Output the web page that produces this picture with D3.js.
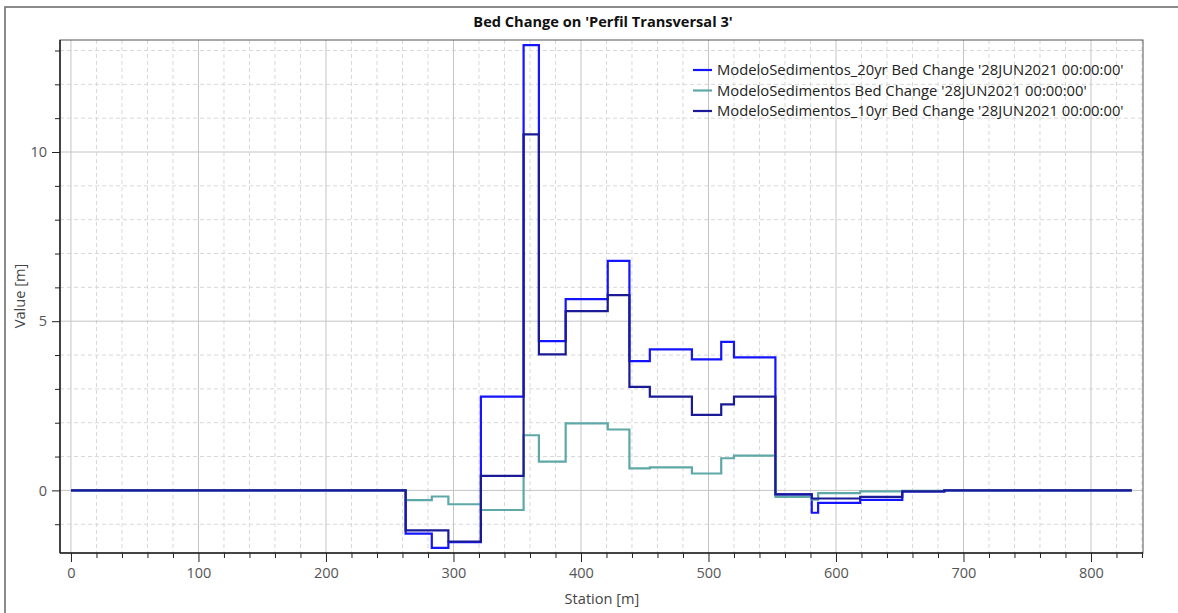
<!DOCTYPE html>
<html><head><meta charset="utf-8">
<script src="https://cdn.jsdelivr.net/npm/d3@7"></script>
<style>body{margin:0;background:#fff;} text{font-family:"Open Sans","Noto Sans",sans-serif;}</style>
</head><body><svg id="c" width="1178" height="613"></svg>
<script>
// Station breakpoints (m)
const stations = [0, 262.5, 283, 296, 321.5, 355, 367, 388, 421, 438, 454, 487, 510, 520, 552.5, 581, 586, 619, 652, 685, 832];
// Values per interval (step after)
const bed20yr = [0, -1.28, -1.70, -1.53, 2.77, 13.16, 4.41, 5.65, 6.78, 3.82, 4.17, 3.87, 4.39, 3.93, -0.12, -0.66, -0.37, -0.28, -0.03, 0];
const bedBase = [0, -0.29, -0.18, -0.41, -0.58, 1.63, 0.85, 1.98, 1.80, 0.65, 0.68, 0.50, 0.95, 1.03, -0.19, -0.27, -0.08, -0.03, -0.01, 0];
const bed10yr = [0, -1.18, -1.18, -1.51, 0.43, 10.52, 4.02, 5.30, 5.77, 3.06, 2.77, 2.23, 2.54, 2.77, -0.12, -0.24, -0.24, -0.19, -0.03, 0];
const seriesNames = [
  "ModeloSedimentos_20yr Bed Change '28JUN2021 00:00:00'",
  "ModeloSedimentos Bed Change '28JUN2021 00:00:00'",
  "ModeloSedimentos_10yr Bed Change '28JUN2021 00:00:00'"
];
const seriesColors = ["#1414ff", "#5ea8a8", "#1a1a96"];
const xTickValues = [0, 100, 200, 300, 400, 500, 600, 700, 800];
const yTickValues = [0, 5, 10];

const svg = d3.select("#c");
const L = 60, R = 1143, T = 40, B = 553;
const x = d3.scaleLinear().domain([-8.6, 840.8]).range([L, R]);
const y = d3.scaleLinear().domain([-1.85, 13.31]).range([B, T]);

// outer frame
svg.append("rect").attr("x", 5).attr("y", 7).attr("width", 1200).attr("height", 700)
  .attr("fill", "none").attr("stroke", "#666").attr("stroke-width", 1.5);

// title
svg.append("text").attr("x", 603).attr("y", 27).attr("text-anchor", "middle")
  .attr("font-size", 14.6).attr("font-weight", "bold").attr("fill", "#111")
  .text("Bed Change on 'Perfil Transversal 3'");

const g = svg.append("g");
// minor grid
const xMinor = d3.range(0, 841, 20).filter(v => v % 100 !== 0);
const yMinor = d3.range(-1, 14, 1).filter(v => v % 5 !== 0);
g.selectAll(".vxm").data(xMinor).enter().append("line")
  .attr("x1", d => x(d)).attr("x2", d => x(d)).attr("y1", T).attr("y2", B)
  .attr("stroke", "#d8d8d8").attr("stroke-dasharray", "4,3");
g.selectAll(".hym").data(yMinor).enter().append("line")
  .attr("x1", L).attr("x2", R).attr("y1", d => y(d)).attr("y2", d => y(d))
  .attr("stroke", "#d8d8d8").attr("stroke-dasharray", "4,3");
// major grid
g.selectAll(".vx").data(xTickValues).enter().append("line")
  .attr("x1", d => x(d)).attr("x2", d => x(d)).attr("y1", T).attr("y2", B)
  .attr("stroke", "#c4c4c4");
g.selectAll(".hy").data(yTickValues).enter().append("line")
  .attr("x1", L).attr("x2", R).attr("y1", d => y(d)).attr("y2", d => y(d))
  .attr("stroke", "#c4c4c4");

// lines
const line = d3.line().x(d => x(d[0])).y(d => y(d[1])).curve(d3.curveStepAfter);
[bed20yr, bedBase, bed10yr].forEach((vals, i) => {
  const pts = vals.map((v, k) => [stations[k], v]);
  pts.push([stations[stations.length - 1], vals[vals.length - 1]]);
  svg.append("path").datum(pts).attr("d", line).attr("fill", "none")
    .attr("stroke", seriesColors[i]).attr("stroke-width", 2.2).attr("stroke-linejoin", "miter");
});

// plot frame
svg.append("rect").attr("x", L).attr("y", T).attr("width", R - L).attr("height", B - T)
  .attr("fill", "none").attr("stroke", "#555").attr("stroke-width", 1);
svg.append("line").attr("x1", L).attr("x2", L).attr("y1", T).attr("y2", B).attr("stroke", "#222").attr("stroke-width", 1.5);
svg.append("line").attr("x1", L).attr("x2", R).attr("y1", B).attr("y2", B).attr("stroke", "#222").attr("stroke-width", 1.5);

// x axis
const xAxisMinor = d3.axisBottom(x).tickValues(xMinor.concat([840])).tickSize(5).tickFormat("");
const xAxis = d3.axisBottom(x).tickValues(xTickValues).tickSize(9).tickPadding(6);
const gx1 = svg.append("g").attr("transform", `translate(0,${B})`).call(xAxisMinor);
const gx = svg.append("g").attr("transform", `translate(0,${B})`).call(xAxis);
[gx, gx1].forEach(a => { a.select(".domain").remove(); a.selectAll("line").attr("stroke", "#222"); });
gx.selectAll("text").attr("font-size", 14.5).attr("fill", "#555").attr("font-family", "'Open Sans','Noto Sans',sans-serif");

// y axis
const yAxisMinor = d3.axisLeft(y).tickValues(yMinor).tickSize(5).tickFormat("");
const yAxis = d3.axisLeft(y).tickValues(yTickValues).tickSize(8).tickPadding(5);
const gy1 = svg.append("g").attr("transform", `translate(${L},0)`).call(yAxisMinor);
const gy = svg.append("g").attr("transform", `translate(${L},0)`).call(yAxis);
[gy, gy1].forEach(a => { a.select(".domain").remove(); a.selectAll("line").attr("stroke", "#222"); });
gy.selectAll("text").attr("font-size", 14.5).attr("fill", "#555").attr("font-family", "'Open Sans','Noto Sans',sans-serif");

// axis titles
svg.append("text").attr("x", 602).attr("y", 604).attr("text-anchor", "middle")
  .attr("font-size", 14.6).attr("fill", "#444").text("Station [m]");
svg.append("text").attr("transform", "translate(25,296) rotate(-90)").attr("text-anchor", "middle")
  .attr("font-size", 14.6).attr("fill", "#444").text("Value [m]");

// legend
const lg = svg.append("g");
seriesNames.forEach((n, i) => {
  const yy = 70 + i * 20.5;
  lg.append("line").attr("x1", 693).attr("x2", 712).attr("y1", yy).attr("y2", yy)
    .attr("stroke", seriesColors[i]).attr("stroke-width", 2.2);
  lg.append("text").attr("x", 717).attr("y", yy + 5).attr("font-size", 14.8).attr("fill", "#222").text(n);
});
</script></body></html>
